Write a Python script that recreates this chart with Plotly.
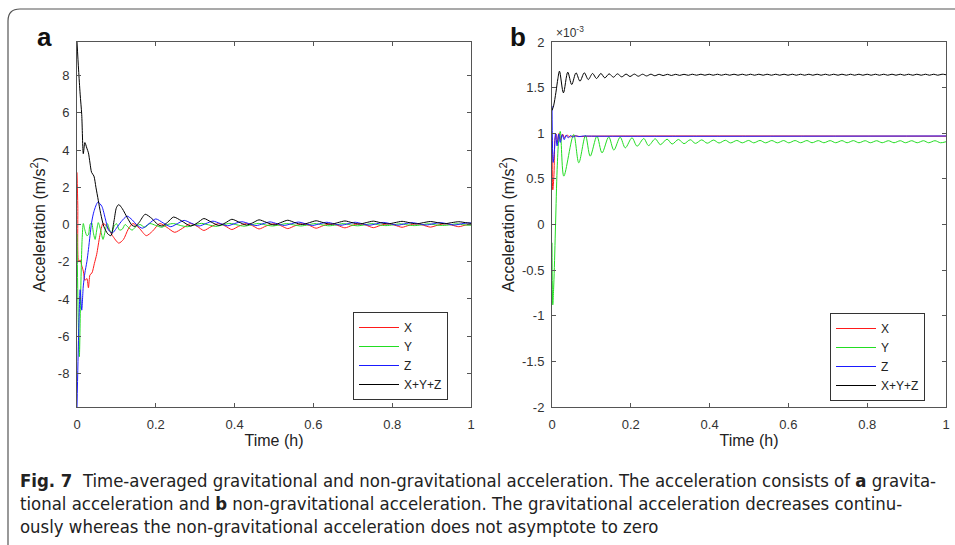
import plotly.graph_objects as go

# ---------------- Panel a: gravitational acceleration (m/s^2) ----------------
rd_a_t = [0, 0.002, 0.004, 0.008, 0.012, 0.016, 0.02, 0.025, 0.029, 0.033, 0.038, 0.044, 0.05, 0.058, 0.066,
          0.076, 0.09, 0.106, 0.118, 0.13, 0.142, 0.158, 0.176, 0.192, 0.21, 0.228, 0.248, 0.268, 0.288, 0.305,
          0.322, 0.34, 0.36, 0.376, 0.393, 0.41, 0.43, 0.446, 0.462, 0.48, 0.5, 0.517, 0.535, 0.553, 0.572,
          0.59, 0.607, 0.625, 0.644, 0.662, 0.68, 0.698, 0.716, 0.734, 0.752, 0.77, 0.789, 0.807, 0.825, 0.843,
          0.861, 0.879, 0.897, 0.915, 0.933, 0.951, 0.969, 0.986, 1.0]
rd_a_v = [2.8, 1.0, -2.0, -1.9, -2.2, -2.5, -3.0, -2.9, -3.4, -2.7, -2.6, -2.1, -1.6, -0.6, 0.05,
          -0.1, -0.6, -1.0, -0.8, -0.25, 0.05, -0.2, -0.6, -0.35, 0.05, -0.15, -0.42, -0.2, 0.05, -0.1,
          -0.32, -0.12, 0.05, -0.08, -0.27, -0.1, 0.05, -0.07, -0.24, -0.08, 0.04, -0.06, -0.22, -0.07, 0.04,
          -0.05, -0.2, -0.06, 0.04, -0.05, -0.18, -0.05, 0.04, -0.04, -0.17, -0.05, 0.04, -0.04, -0.15, -0.04,
          0.04, -0.04, -0.14, -0.04, 0.04, -0.03, -0.12, -0.03, 0.0]

gr_a_t = [0, 0.003, 0.006, 0.009, 0.013, 0.016, 0.02, 0.025, 0.029, 0.033, 0.037, 0.042, 0.046, 0.05, 0.054,
          0.06, 0.066, 0.072, 0.077, 0.083, 0.088, 0.094, 0.1, 0.108, 0.115, 0.122, 0.13, 0.14, 0.15, 0.16,
          0.172, 0.185, 0.2, 0.215, 0.23, 0.245, 0.262, 0.28, 0.298, 0.316, 0.334, 0.352, 0.37, 0.388, 0.406,
          0.424, 0.442, 0.46, 0.478, 0.496, 0.514, 0.532, 0.55, 0.568, 0.586, 0.604, 0.622, 0.64, 0.658, 0.676,
          0.694, 0.712, 0.73, 0.748, 0.766, 0.784, 0.802, 0.82, 0.838, 0.856, 0.874, 0.892, 0.91, 0.928, 0.946,
          0.964, 0.982, 1.0]
gr_a_v = [-0.5, -5.0, -7.1, -4.0, -0.8, 0.05, -0.3, -0.6, -0.55, 0.0, 0.1, -0.5, -0.8, -0.3, 0.1,
          -0.3, -0.8, -0.3, 0.05, -0.3, -0.45, -0.1, 0.05, -0.3, -0.25, 0.0, -0.15, -0.3, -0.1, 0.0,
          -0.15, 0.05, -0.05, -0.15, 0.0, 0.05, -0.05, -0.12, -0.02, 0.06, -0.02, -0.1, -0.02, 0.06, -0.02,
          -0.09, -0.02, 0.06, -0.02, -0.08, -0.02, 0.05, -0.02, -0.08, -0.02, 0.05, -0.02, -0.07, -0.02, 0.05,
          -0.02, -0.07, -0.02, 0.05, -0.02, -0.06, -0.02, 0.04, -0.02, -0.06, -0.02, 0.04, -0.02, -0.05, -0.02,
          0.04, -0.02, -0.04]

bl_a_t = [0, 0.004, 0.008, 0.012, 0.016, 0.02, 0.025, 0.029, 0.033, 0.037, 0.043, 0.053, 0.063, 0.072, 0.08,
          0.09, 0.1, 0.112, 0.127, 0.14, 0.153, 0.166, 0.183, 0.2, 0.219, 0.238, 0.255, 0.272, 0.291, 0.31,
          0.327, 0.345, 0.364, 0.382, 0.4, 0.418, 0.436, 0.454, 0.472, 0.49, 0.508, 0.526, 0.544, 0.562, 0.58,
          0.598, 0.616, 0.634, 0.652, 0.67, 0.688, 0.706, 0.724, 0.742, 0.76, 0.778, 0.796, 0.814, 0.832, 0.85,
          0.868, 0.886, 0.904, 0.922, 0.94, 0.958, 0.976, 0.994, 1.0]
bl_a_v = [-9.8, -6.0, -3.5, -4.6, -3.3, -2.6, -2.0, -1.35, -0.6, 0.1, 0.7, 1.2, 0.98, 0.3, -0.3,
          -0.45, -0.2, 0.15, 0.45, 0.25, -0.05, -0.2, 0.05, 0.3, 0.08, -0.12, 0.05, 0.22, 0.06, -0.08,
          0.05, 0.18, 0.05, -0.07, 0.05, 0.15, 0.05, -0.06, 0.04, 0.14, 0.04, -0.05, 0.04, 0.13, 0.04,
          -0.05, 0.04, 0.12, 0.04, -0.04, 0.04, 0.12, 0.04, -0.04, 0.04, 0.11, 0.04, -0.04, 0.04, 0.1,
          0.04, -0.03, 0.04, 0.1, 0.04, -0.03, 0.04, 0.09, 0.08]

bk_a_t = [0, 0.004, 0.008, 0.012, 0.016, 0.02, 0.025, 0.029, 0.033, 0.037, 0.043, 0.048, 0.054, 0.06, 0.068,
          0.078, 0.086, 0.094, 0.1, 0.106, 0.115, 0.128, 0.14, 0.148, 0.158, 0.173, 0.19, 0.205, 0.216, 0.23,
          0.245, 0.265, 0.288, 0.305, 0.322, 0.34, 0.36, 0.376, 0.393, 0.41, 0.43, 0.446, 0.462, 0.48, 0.5,
          0.517, 0.535, 0.553, 0.572, 0.59, 0.607, 0.625, 0.644, 0.662, 0.68, 0.698, 0.716, 0.734, 0.752, 0.77,
          0.789, 0.807, 0.825, 0.843, 0.861, 0.879, 0.897, 0.915, 0.933, 0.951, 0.969, 0.986, 1.0]
bk_a_v = [9.8, 8.3, 7.0, 5.9, 3.8, 4.4, 4.1, 3.85, 3.3, 2.8, 2.6, 2.0, 1.3, 0.6, -0.1,
          -0.5, -0.6, 0.2, 0.9, 1.07, 0.85, 0.35, -0.05, -0.1, 0.12, 0.55, 0.32, 0.0, -0.08, 0.12,
          0.4, 0.2, -0.08, 0.08, 0.32, 0.14, -0.05, 0.08, 0.28, 0.14, -0.03, 0.09, 0.25, 0.12, -0.02,
          0.1, 0.23, 0.1, 0.0, 0.1, 0.2, 0.1, 0.01, 0.1, 0.19, 0.1, 0.02, 0.1, 0.18, 0.1,
          0.03, 0.1, 0.17, 0.1, 0.03, 0.1, 0.16, 0.1, 0.04, 0.1, 0.15, 0.1, 0.06]

# ---------------- Panel b: non-gravitational acceleration (x 1e-3 m/s^2) ----------------
rd_b_t = [0, 0.002, 0.005, 0.008, 0.011, 0.014, 0.018, 0.022, 0.027, 0.032, 0.038, 0.045, 0.055, 0.07, 0.1, 1.0]
rd_b_v = [0.95, 0.38, 0.55, 0.95, 0.99, 0.9, 1.0, 0.93, 0.99, 0.95, 0.98, 0.96, 0.972, 0.965, 0.968, 0.968]

bl_b_t = [0, 0.003, 0.006, 0.009, 0.013, 0.017, 0.021, 0.026, 0.031, 0.036, 0.041, 0.047, 0.053, 0.06, 0.068,
          0.08, 0.1, 1.0]
bl_b_v = [1.3, 0.68, 0.8, 1.0, 0.86, 0.99, 0.9, 0.985, 0.93, 0.98, 0.95, 0.975, 0.958, 0.972, 0.963,
          0.97, 0.968, 0.97]

gr_b_t = [0, 0.002, 0.005, 0.009, 0.013, 0.017, 0.021, 0.030, 0.055, 0.068, 0.085, 0.097, 0.114, 0.127, 0.144,
          0.157, 0.173, 0.186, 0.203, 0.216, 0.233, 0.245, 0.262, 0.275, 0.292, 0.305, 0.321, 0.335, 0.351, 0.364,
          0.380, 0.394, 0.410, 0.424, 0.440, 0.453, 0.469, 0.483, 0.499, 0.512, 0.528, 0.542, 0.558, 0.572, 0.588,
          0.601, 0.617, 0.631, 0.647, 0.660, 0.676, 0.690, 0.706, 0.720, 0.736, 0.749, 0.765, 0.779, 0.795, 0.808,
          0.824, 0.838, 0.854, 0.868, 0.884, 0.897, 0.913, 0.927, 0.943, 0.956, 0.972, 0.986, 1.0]
gr_b_v = [-0.2, -0.88, -0.6, 0.0, 0.6, 0.92, 1.02, 0.53, 0.986, 0.676, 0.975, 0.749, 0.968, 0.785, 0.96,
          0.815, 0.957, 0.84, 0.95, 0.858, 0.942, 0.865, 0.939, 0.875, 0.935, 0.882, 0.932, 0.886, 0.929, 0.889,
          0.927, 0.891, 0.925, 0.893, 0.923, 0.894, 0.921, 0.895, 0.921, 0.895, 0.921, 0.895, 0.92, 0.895, 0.92,
          0.895, 0.92, 0.896, 0.92, 0.896, 0.919, 0.896, 0.919, 0.896, 0.919, 0.896, 0.919, 0.896, 0.918, 0.896,
          0.918, 0.896, 0.918, 0.896, 0.918, 0.896, 0.918, 0.896, 0.918, 0.896, 0.918, 0.896, 0.907]

bk_b_t = [0, 0.004, 0.01, 0.015, 0.019, 0.029, 0.040, 0.050, 0.061, 0.071, 0.082, 0.092, 0.103, 0.113, 0.124,
          0.134, 0.145, 0.156, 0.166, 0.177, 0.188, 0.198, 0.209, 0.219, 0.230, 0.240, 0.251, 0.261, 0.272, 0.282,
          0.293, 0.303, 0.314, 0.324, 0.335, 0.346, 0.356, 0.367, 0.378, 0.388, 0.399, 0.409, 0.420, 0.430, 0.441,
          0.451, 0.462, 0.472, 0.483, 0.493, 0.504, 0.514, 0.525, 0.536, 0.546, 0.557, 0.568, 0.578, 0.589, 0.599,
          0.610, 0.620, 0.631, 0.641, 0.652, 0.662, 0.673, 0.683, 0.694, 0.704, 0.715, 0.726, 0.736, 0.747, 0.758,
          0.768, 0.779, 0.789, 0.800, 0.810, 0.821, 0.831, 0.842, 0.852, 0.863, 0.873, 0.884, 0.894, 0.905, 0.916,
          0.926, 0.937, 0.948, 0.958, 0.969, 0.979, 0.990, 1.0]
bk_b_v = [1.25, 1.3, 1.45, 1.6, 1.68, 1.443, 1.669, 1.534, 1.662, 1.571, 1.662, 1.589, 1.655, 1.6, 1.655,
          1.607, 1.651, 1.614, 1.651, 1.618, 1.648, 1.622, 1.648, 1.625, 1.647, 1.628, 1.647, 1.63, 1.646, 1.632,
          1.646, 1.633, 1.646, 1.634, 1.646, 1.635, 1.647, 1.636, 1.647, 1.636, 1.647, 1.636, 1.647, 1.636, 1.647,
          1.636, 1.647, 1.636, 1.647, 1.636, 1.647, 1.636, 1.647, 1.636, 1.647, 1.636, 1.647, 1.636, 1.647, 1.636,
          1.647, 1.636, 1.647, 1.636, 1.647, 1.636, 1.647, 1.636, 1.647, 1.636, 1.647, 1.636, 1.647, 1.636, 1.647,
          1.636, 1.647, 1.636, 1.647, 1.636, 1.647, 1.636, 1.647, 1.636, 1.647, 1.636, 1.647, 1.636, 1.647, 1.636,
          1.647, 1.636, 1.647, 1.636, 1.647, 1.636, 1.647, 1.641]

# ---------------- Labels ----------------
series_names = ["X", "Y", "Z", "X+Y+Z"]
series_colors = ["#ff1a1a", "#22dd22", "#1a1aff", "#000000"]
x_ticks = [0, 0.2, 0.4, 0.6, 0.8, 1]
x_ticktext = ["0", "0.2", "0.4", "0.6", "0.8", "1"]
ya_ticks = [-8, -6, -4, -2, 0, 2, 4, 6, 8]
ya_ticktext = ["-8", "-6", "-4", "-2", "0", "2", "4", "6", "8"]
yb_ticks = [-2, -1.5, -1, -0.5, 0, 0.5, 1, 1.5, 2]
yb_ticktext = ["-2", "-1.5", "-1", "-0.5", "0", "0.5", "1", "1.5", "2"]
x_title = "Time (h)"
y_title = "Acceleration (m/s<sup>2</sup>)"
caption_lines = [
    "<b>Fig. 7</b>  Time-averaged gravitational and non-gravitational acceleration. The acceleration consists of <b>a</b> gravita-",
    "tional acceleration and <b>b</b> non-gravitational acceleration. The gravitational acceleration decreases continu-",
    "ously whereas the non-gravitational acceleration does not asymptote to zero",
]

W, H = 955, 545
AX = "Liberation Sans, Arial, sans-serif"

fig = go.Figure()

panel_a = [(rd_a_t, rd_a_v), (gr_a_t, gr_a_v), (bl_a_t, bl_a_v), (bk_a_t, bk_a_v)]
panel_b = [(rd_b_t, rd_b_v), (gr_b_t, gr_b_v), (bl_b_t, bl_b_v), (bk_b_t, bk_b_v)]

for (t, v), name, col in zip(panel_a, series_names, series_colors):
    fig.add_trace(go.Scatter(x=t, y=v, name=name, mode="lines",
                             line=dict(color=col, width=1, shape="spline", smoothing=0.7),
                             xaxis="x", yaxis="y", legend="legend"))
for (t, v), name, col in zip(panel_b, series_names, series_colors):
    fig.add_trace(go.Scatter(x=t, y=v, name=name, mode="lines",
                             line=dict(color=col, width=1, shape="spline", smoothing=0.9),
                             xaxis="x2", yaxis="y2", legend="legend2"))


def px(x):
    return x / W


def py(y):
    return 1 - y / H


axis_common = dict(showline=True, linecolor="#555", linewidth=1, mirror="ticks", ticks="inside",
                   ticklen=4, tickcolor="#555", showgrid=False, zeroline=False, automargin=False,
                   tickfont=dict(family=AX, size=13, color="#333"))
title_font = dict(family=AX, size=16, color="#222")

fig.update_layout(
    width=W, height=H, margin=dict(l=0, r=0, t=0, b=0, pad=0, autoexpand=False), autosize=False,
    paper_bgcolor="white", plot_bgcolor="white",
    xaxis=dict(domain=[px(77), px(471)], range=[0, 1], tickvals=x_ticks, ticktext=x_ticktext,
               anchor="y", ticklabelstandoff=5,
               title=dict(text=x_title, font=title_font, standoff=4),
               **axis_common),
    yaxis=dict(domain=[py(407), py(42)], range=[-9.8, 9.8], tickvals=ya_ticks, ticktext=ya_ticktext,
               anchor="x", ticklabelstandoff=4,
               title=dict(text=y_title, font=title_font, standoff=8),
               **axis_common),
    xaxis2=dict(domain=[px(552), px(946)], range=[0, 1], tickvals=x_ticks, ticktext=x_ticktext,
                anchor="y2", ticklabelstandoff=5,
                title=dict(text=x_title, font=title_font, standoff=4),
                **axis_common),
    yaxis2=dict(domain=[py(407), py(42)], range=[-2, 2], tickvals=yb_ticks, ticktext=yb_ticktext,
                anchor="x2", ticklabelstandoff=4,
                title=dict(text=y_title, font=title_font, standoff=3),
                **axis_common),
    legend=dict(x=px(353), y=py(356), xanchor="left", yanchor="middle", bgcolor="white",
                bordercolor="#333", borderwidth=1, itemwidth=40, tracegroupgap=0,
                font=dict(family=AX, size=12, color="#222")),
    legend2=dict(x=px(830), y=py(357), xanchor="left", yanchor="middle", bgcolor="white",
                 bordercolor="#333", borderwidth=1, itemwidth=40, tracegroupgap=0,
                 font=dict(family=AX, size=12, color="#222")),
    showlegend=True,
)

ann = []
ann.append(dict(text="<b>a</b>", x=px(44), y=py(37), xref="paper", yref="paper", showarrow=False,
                font=dict(family=AX, size=26, color="#111"), xanchor="center", yanchor="middle"))
ann.append(dict(text="<b>b</b>", x=px(518), y=py(37), xref="paper", yref="paper", showarrow=False,
                font=dict(family=AX, size=26, color="#111"), xanchor="center", yanchor="middle"))
ann.append(dict(text="×10<sup>-3</sup>", x=px(554), y=py(42), xref="paper", yref="paper", showarrow=False,
                font=dict(family=AX, size=12, color="#333"), xanchor="left", yanchor="bottom"))
for i, line in enumerate(caption_lines):
    ann.append(dict(text=line, x=px(18), y=py(480 + 23 * i), xref="paper", yref="paper", showarrow=False,
                    font=dict(family="Liberation Sans Narrow, DejaVu Sans Condensed, sans-serif", size=18.4,
                              color="#222"),
                    xanchor="left", yanchor="middle", align="left"))
fig.update_layout(annotations=ann)

# card border (rounded top-left corner)
fig.add_shape(type="path", xref="paper", yref="paper", line=dict(color="#555", width=1.2),
              path="M %f %f L %f %f Q %f %f %f %f L %f %f" % (
                  px(955), py(9), px(20), py(9), px(8), py(9), px(8), py(21), px(8), py(545)))

fig.write_html("out.html", config={"displayModeBar": False},
               post_script="document.body.style.margin='0px';")
